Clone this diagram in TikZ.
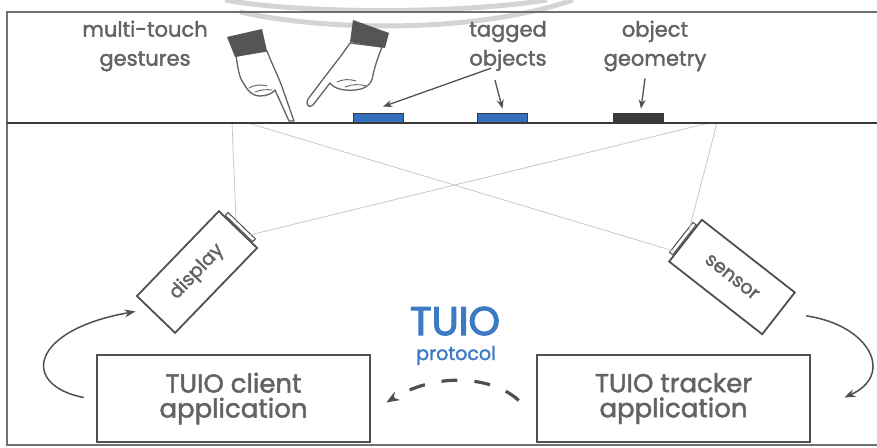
\documentclass[tikz,border=0pt]{standalone}
\usepackage{fontspec}
\setmainfont{Poppins}[FakeBold=1.8]
\usetikzlibrary{arrows.meta,calc}
\definecolor{ink}{HTML}{505050}
\definecolor{txt}{HTML}{636363}
\definecolor{tuioblue}{HTML}{3C7BC4}
\definecolor{tagblue}{HTML}{3570BE}
\definecolor{tagdark}{HTML}{3A3A3A}
\definecolor{ray}{HTML}{C8C8C8}
\definecolor{cuff}{HTML}{555555}
\definecolor{ringgray}{HTML}{D4D4D4}
\definecolor{frame}{HTML}{707070}
\begin{document}
\begin{tikzpicture}[x=1pt,y=-1pt,
  caption/.style={text=txt,font=\fontsize{21}{29}\selectfont,align=center,inner sep=0pt},
  appbox/.style={draw=ink,line width=2.6pt,text=txt,align=center,inner sep=0pt,
    minimum width=273pt,minimum height=87pt,font=\fontsize{26}{25}\selectfont},
  device/.style={draw=ink,line width=1.8pt,fill=white,minimum width=118pt,minimum height=53pt,
    inner sep=0pt,text=txt,font=\fontsize{19}{19}\selectfont},
  lensbox/.style={draw=ink,line width=1pt,fill=white,minimum width=4pt,minimum height=38pt,inner sep=0pt},
  tagbox/.style={draw=tagdark,line width=0.8pt,minimum width=50pt,minimum height=9pt,inner sep=0pt},
  ptr/.style={draw=ink,line width=1.3pt,-{Stealth[length=9pt,width=7pt]}},
  flow/.style={draw=ink,line width=1.5pt,-{Stealth[length=11pt,width=8pt]}},
  rayline/.style={draw=ray,line width=0.8pt},
  hand/.style={fill=white,draw=txt,line width=1.3pt,line join=round},
  crease/.style={draw=txt,line width=0.9pt,line cap=round},
]
\useasboundingbox (0,0) rectangle (877,447);

% faint ring behind the top edge
\draw[ringgray,line width=5pt] (225,0) .. controls (300,14) and (460,14) .. (547,0);
\draw[ringgray,line width=5pt] (240,12) .. controls (320,30) and (470,35) .. (573,0);

% outer frame
\draw[frame,line width=1.2pt] (877,12) -- (7,12) -- (7,445) -- (877,445);

% points on the surface where the optical rays meet it
\coordinate (sA) at (232,123);
\coordinate (sB) at (248,123);
\coordinate (sC) at (709,123);
\coordinate (sD) at (717,123);

% display and sensor with their lenses
\node[device,rotate=46] (disp) at (197,272) {display};
\node[lensbox,rotate=46,anchor=west] (dlens) at (disp.east) {};
\node[device,rotate=-38] (sens) at (732,277) {sensor};
\node[lensbox,rotate=-38,anchor=east] (slens) at (sens.west) {};

% projection and camera rays
\draw[rayline] (sA) -- ($(dlens.north)!0.35!(dlens.south)$);
\draw[rayline] (sC) -- ($(dlens.north)!0.8!(dlens.south)$);
\draw[rayline] (sB) -- ($(slens.north)!0.9!(slens.south)$);
\draw[rayline] (sD) -- ($(slens.north)!0.25!(slens.south)$);

% interactive surface
\draw[tagdark,line width=2.5pt] (7,123) -- (877,123);
\node[tagbox,fill=tagblue] (tag1) at (378,117.5) {};
\node[tagbox,fill=tagblue] (tag2) at (502.5,117.5) {};
\node[tagbox,fill=tagdark] (geo) at (638,117.5) {};

% left hand touching the surface
\draw[hand] (236,56) .. controls (238,68) and (239,78) .. (244,84)
  .. controls (247,90) and (252,96) .. (260,96)
  .. controls (266,96) and (272,94) .. (275,90)
  -- (289,121) -- (294,121) -- (281,84)
  .. controls (277,74) and (272,64) .. (267,51) -- cycle;
\draw[crease] (249,88) .. controls (254,85) and (260,84) .. (267,86);
\draw[crease] (255,92) .. controls (260,90) and (266,89) .. (272,90);
\fill[cuff] (227,37) -- (262,29) -- (267,51) -- (235,57) -- cycle;

% right hand pointing
\draw[hand] (350,43) .. controls (342,55) and (333,66) .. (327,74)
  -- (308,99) .. controls (305,104) and (309,109) .. (313,105)
  -- (330,83) .. controls (334,89) and (345,91) .. (355,90)
  .. controls (366,89) and (372,84) .. (373,75)
  .. controls (375,65) and (379,55) .. (382,47) -- cycle;
\draw[crease] (337,82) .. controls (343,79) and (350,79) .. (356,81);
\draw[crease] (345,87) .. controls (352,84) and (360,84) .. (366,86);
\fill[cuff] (353,20) -- (389,33) -- (385,48) -- (350,42) -- cycle;

% captions
\node[caption] (gest) at (145,46) {multi-touch\\gestures};
\node[caption] (tagged) at (508,46) {tagged\\objects};
\node[caption] (geom) at (655,46) {object\\geometry};

% caption pointers
\draw[ptr] ($(tagged.south west)+(22,-3)$) -- ($(tag1.north)+(5,-6)$);
\draw[ptr] ($(tagged.south)+(-13,9)$) -- ($(tag2.north)+(0,-4)$);
\draw[ptr] ($(geom.south)+(-10,7)$) -- ($(geo.north)+(3,-4)$);

% applications
\node[appbox] (client) at (233.5,398.5) {TUIO client\\application};
\node[appbox] (tracker) at (673.5,398.5) {TUIO tracker\\application};

% protocol label
\node[text=tuioblue,font=\fontsize{40}{40}\selectfont\addfontfeature{FakeBold=3},inner sep=0pt,anchor=base] (tuio) at (455,335) {TUIO};
\node[text=tuioblue,font=\fontsize{19}{19}\selectfont,inner sep=0pt,anchor=base] (proto) at (456,360) {protocol};

% data flow
\draw[flow] ($(client.west)+(-12,-1)$) .. controls (20,385) and (30,330) .. ($(disp.north west)!0.3!(disp.south west)+(-12,4)$);
\draw[flow] ($(sens.east)+(27,2)$) .. controls (870,325) and (895,375) .. ($(tracker.east)+(33,-1)$);
\draw[ink,line width=3.2pt,dash pattern=on 16pt off 17pt,-{Stealth[length=13pt,width=10pt]}]
  ($(tracker.west)+(-17,2)$) .. controls (495,378) and (440,370) .. ($(client.east)+(15,4)$);
\end{tikzpicture}
\end{document}
